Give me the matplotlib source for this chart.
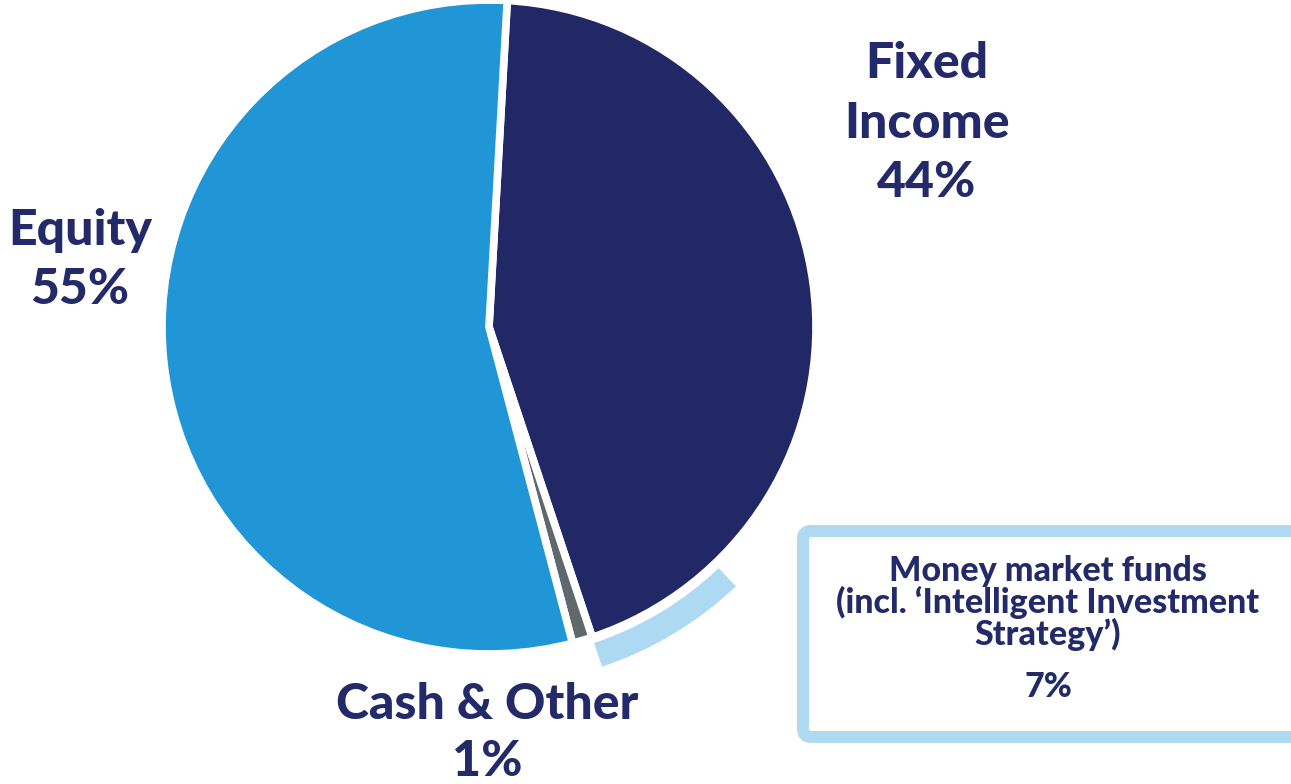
import matplotlib.pyplot as plt
from matplotlib.patches import FancyBboxPatch

# data
labels = ["Fixed\nIncome", "Cash & Other", "Equity"]
shares = [44, 1, 55]
colors = ["#212865", "#5F696D", "#2196D6"]
mmf_label = "Money market funds\n(incl. \u2018Intelligent Investment\nStrategy\u2019)"
mmf_share = 7

navy = "#232A69"
light = "#ADDAF2"

W, H = 1291, 784
fig = plt.figure(figsize=(W / 100, H / 100), dpi=100)
ax = fig.add_axes([0, 0, 1, 1])

cx, cy = 489, H - 327
start = 86.8

ax.pie(shares, colors=colors, startangle=start, counterclock=False,
       center=(cx, cy), radius=327, frame=True,
       wedgeprops=dict(edgecolor="white", linewidth=5.5))

# outer ring for money market funds, starts where fixed income ends
fi_end = start - shares[0] * 3.6
ax.pie([mmf_share, 100 - mmf_share], colors=[light, "none"], startangle=fi_end,
       counterclock=True, center=(cx, cy), radius=358, frame=True,
       wedgeprops=dict(width=25, edgecolor="none"))

ax.set_xlim(0, W)
ax.set_ylim(0, H)
ax.set_aspect("equal")
ax.set_axis_off()

font = dict(family="Lato", weight="black", color=navy)

ax.text(927, H - 123, f"{labels[0]}\n{shares[0]}%", ha="center", va="center",
        fontsize=36, linespacing=1.38, **font)
ax.text(80, H - 260, f"{labels[2]}\n{shares[2]}%", ha="center", va="center",
        fontsize=36, linespacing=1.38, **font)
ax.text(487, H - 733, f"{labels[1]}\n{shares[1]}%", ha="center", va="center",
        fontsize=36, linespacing=1.32, **font)

# callout box
box = FancyBboxPatch((803, H - 737), 520, 206, boxstyle="round,pad=0,rounding_size=8",
                     facecolor="white", edgecolor=light, linewidth=8.6)
ax.add_patch(box)
ax.text(1048, H - 603, mmf_label, ha="center", va="center",
        fontsize=24.5, linespacing=0.97, **font)
ax.text(1048, H - 687, f"{mmf_share}%", ha="center", va="center",
        fontsize=24.5, **font)

fig.savefig("out.png", dpi=100)
